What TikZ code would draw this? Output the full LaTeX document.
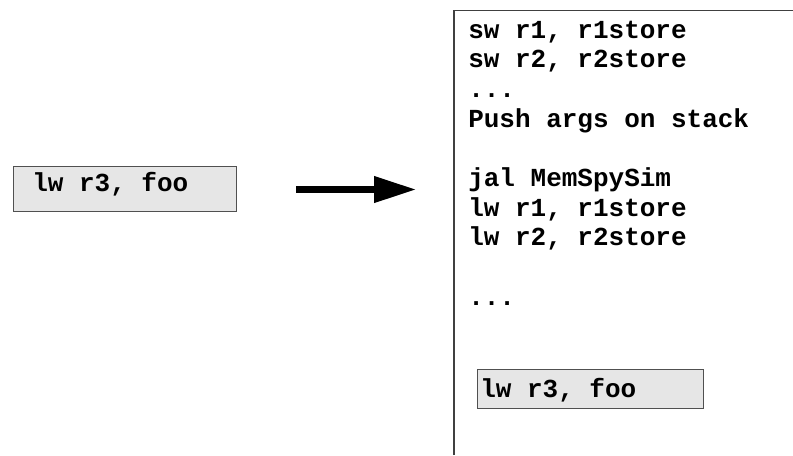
\documentclass[tikz,border=0pt]{standalone}
\usepackage{fontspec}
\setmonofont{Liberation Mono}
\usetikzlibrary{arrows.meta}
\definecolor{boxfill}{HTML}{E6E6E6}
\definecolor{boxline}{HTML}{505050}
\definecolor{panelline}{HTML}{404040}
\tikzset{
  code/.style={inner sep=0pt, anchor=base west, font=\fontsize{19.5}{22}\selectfont\ttfamily\bfseries},
  graybox/.style={draw=boxline, fill=boxfill, line width=0.9pt, inner sep=0pt, anchor=north west},
  bigarrow/.style={line width=4.8pt, -{Triangle[length=31.5pt,width=19pt]}}
}
\begin{document}
\begin{tikzpicture}[x=0.75pt,y=-0.75pt]
\useasboundingbox (0,0) rectangle (793,455);
% left box
\node[graybox, minimum width=167.25pt, minimum height=33.75pt] (lbox) at (13,166) {};
\node[code] (ltext) at (32,191) {lw r3, foo};
% arrow
\coordinate (astart) at (296,189.5);
\coordinate (aend) at (416,189.5);
\draw[bigarrow] (astart) -- (aend);
% right panel
\draw[panelline, line width=1.2pt] (454,455) -- (454,10.5) -- (793,10.5);
\node[code] (r1) at (468,38) {sw r1, r1store};
\node[code] (r2) at (468,67.7) {sw r2, r2store};
\node[code] (r3) at (468,97.4) {...};
\node[code] (r4) at (468,127.1) {Push args on stack};
\node[code] (r5) at (468,186.5) {jal MemSpySim};
\node[code] (r6) at (468,216.2) {lw r1, r1store};
\node[code] (r7) at (468,245.9) {lw r2, r2store};
\node[code] (r8) at (468,305.3) {...};
% bottom box
\node[graybox, minimum width=170pt, minimum height=29.25pt] (bbox) at (476.5,369) {};
\node[code] (btext) at (480,397) {lw r3, foo};
\end{tikzpicture}
\end{document}
